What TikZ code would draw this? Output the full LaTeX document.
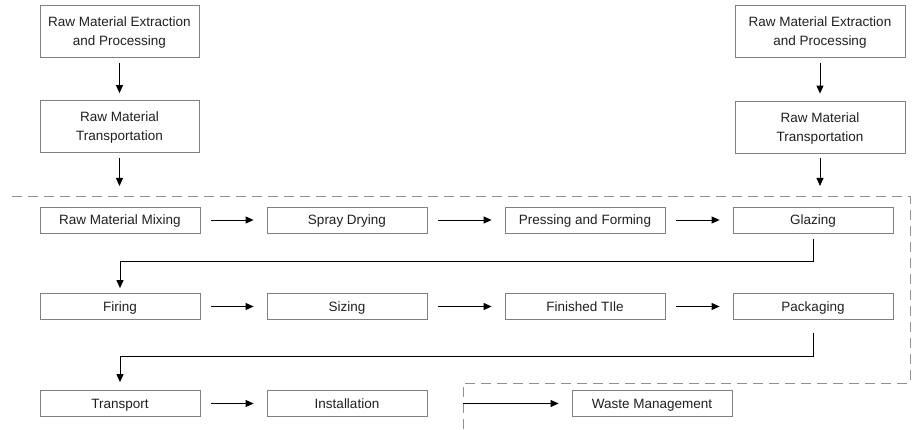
\documentclass[tikz,border=0pt]{standalone}
\usepackage{fontspec}
\setmainfont{Liberation Sans}
\usetikzlibrary{arrows.meta}
\definecolor{boxgray}{HTML}{808080}
\definecolor{dashgray}{HTML}{909090}
\definecolor{txt}{HTML}{202020}
\tikzset{
  procbox/.style={draw=boxgray, line width=0.8pt, minimum width=160pt, minimum height=26pt, inner sep=0pt, align=center, text=txt, text depth=0pt, font=\fontsize{13.5}{19}\selectfont},
  tallbox/.style={procbox, minimum height=52pt},
  flow/.style={-{Triangle[length=8pt,width=7pt]}, line width=0.9pt, draw=black},
  hflow/.style={flow, shorten <=11pt, shorten >=13pt},
  vflow/.style={flow, shorten <=6pt, shorten >=7pt},
  bound/.style={draw=dashgray, line width=0.9pt, dash pattern=on 10pt off 6pt}
}
\begin{document}
\begin{tikzpicture}[x=1pt,y=-1pt]
\useasboundingbox (0,0) rectangle (918,430);
% top left
\node[tallbox, minimum width=159pt] (ex1) at (119.5,31) {Raw Material Extraction\\and Processing};
\node[tallbox, minimum width=159pt] (tr1) at (119.5,126.5) {Raw Material\\Transportation};
% top right
\node[tallbox, minimum width=170pt] (ex2) at (820,31) {Raw Material Extraction\\and Processing};
\node[tallbox, minimum width=170pt] (tr2) at (820,127) {Raw Material\\Transportation};
% row 1
\node[procbox] (mix) at (120,220) {Raw Material Mixing};
\node[procbox] (spr) at (347,220) {Spray Drying};
\node[procbox] (prs) at (585,220) {Pressing and Forming};
\node[procbox] (glz) at (813,220) {Glazing};
% row 2
\node[procbox] (fir) at (120,306.5) {Firing};
\node[procbox] (siz) at (347,306.5) {Sizing};
\node[procbox] (fin) at (585,306.5) {Finished TIle};
\node[procbox] (pak) at (813,306.5) {Packaging};
% row 3
\node[procbox] (tsp) at (120,403.5) {Transport};
\node[procbox] (ins) at (347,403.5) {Installation};
\node[procbox] (wst) at (652,403.5) {Waste Management};
% boundary
\draw[bound] (12,196) -- (910,196) -- (910,383) -- (463,383) -- (463,430);
% coordinates
\coordinate (e1) at (119.5,186);
\coordinate (e2) at (820,186);
\coordinate (wsrc) at (463,403.5);
% vertical arrows
\draw[vflow] (ex1) -- (tr1);
\draw[flow, shorten <=5pt] (tr1) -- (e1);
\draw[vflow] (ex2) -- (tr2);
\draw[flow, shorten <=5pt] (tr2) -- (e2);
% horizontal arrows
\draw[hflow] (mix) -- (spr);
\draw[hflow] (spr) -- (prs);
\draw[hflow] (prs) -- (glz);
\draw[hflow] (fir) -- (siz);
\draw[hflow] (siz) -- (fin);
\draw[hflow] (fin) -- (pak);
\draw[hflow] (tsp) -- (ins);
\draw[flow, shorten >=13pt] (wsrc) -- (wst);
% loops
\draw[flow, shorten <=6pt, shorten >=5pt] (glz.south) -- ++(0,28) -| (fir.north);
\draw[flow, shorten <=13pt, shorten >=8pt] (pak.south) -- ++(0,37) -| (tsp.north);
\end{tikzpicture}
\end{document}
